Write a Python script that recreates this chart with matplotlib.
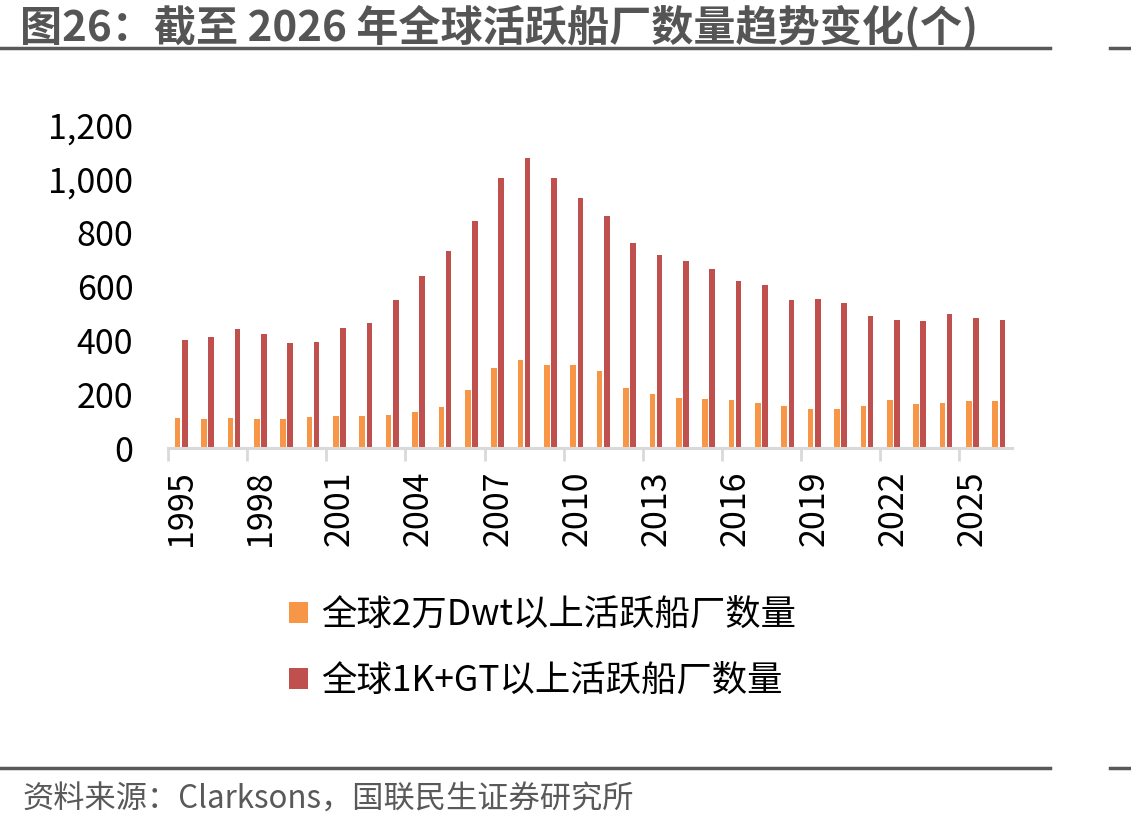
import matplotlib
matplotlib.use("Agg")
import matplotlib.pyplot as plt
import numpy as np
from matplotlib.lines import Line2D

plt.rcParams['font.family'] = ['Noto Sans CJK SC', 'DejaVu Sans']

years = list(range(1995, 2027))
dwt20k = [111, 108, 110, 108, 106, 114, 119, 118, 123, 133, 151, 214, 296, 327, 307, 308,
          286, 223, 199, 185, 181, 177, 167, 155, 145, 145, 156, 178, 162, 167, 175, 173]
gt1k = [401, 412, 441, 422, 389, 393, 445, 463, 549, 638, 732, 843, 1004, 1076, 1002, 929,
        861, 762, 717, 695, 664, 619, 606, 549, 554, 537, 490, 476, 472, 497, 482, 474]
series_names = ['全球2万Dwt以上活跃船厂数量', '全球1K+GT以上活跃船厂数量']
colors = ['#F79646', '#C0504D']
yticks = [0, 200, 400, 600, 800, 1000, 1200]

W, H = 1131, 830
fig = plt.figure(figsize=(W / 100, H / 100), dpi=100)
ax = fig.add_axes([168 / W, 1 - 448 / H, (1012 - 168) / W, (448 - 125) / H])

x = np.arange(len(years))
bw = 0.215
off = 0.135
b1 = ax.bar(x - off, dwt20k, width=bw, color=colors[0], label=series_names[0])
b2 = ax.bar(x + off, gt1k, width=bw, color=colors[1], label=series_names[1])

ax.set_xlim(-0.5, len(years) - 0.5)
ax.set_ylim(0, 1200)
ax.set_yticks(yticks)
ax.set_yticklabels([f'{v:,}' for v in yticks])
ax.tick_params(axis='y', length=0, pad=25, labelsize=24.5)

lab_idx = list(range(0, len(years), 3))
ax.set_xticks(lab_idx)
ax.set_xticklabels([str(years[i]) for i in lab_idx], rotation=90)
ax.tick_params(axis='x', which='major', length=0, pad=16, labelsize=24.5)
ax.set_xticks([i - 0.5 for i in lab_idx], minor=True)
ax.tick_params(axis='x', which='minor', length=9, width=2, color='#D9D9D9')

for s in ['top', 'right', 'left']:
    ax.spines[s].set_visible(False)
ax.spines['bottom'].set_color('#D9D9D9')
ax.spines['bottom'].set_linewidth(2.2)

leg = fig.legend(handles=[b1, b2], labels=series_names, loc='upper left',
                 bbox_to_anchor=(257 / W, 1 - 565 / H), frameon=False,
                 fontsize=25.5, handlelength=0.55, handleheight=0.55,
                 handletextpad=0.35, labelspacing=0.85)

# Title
fig.text(20 / W, 1 - 27 / H, '图26：截至 2026 年全球活跃船厂数量趋势变化(个)',
         fontsize=30.3, fontweight='bold', color='#555555', va='center', ha='left')

# Rules
for yy in [48, 768]:
    fig.add_artist(Line2D([0, 1050 / W], [1 - yy / H] * 2, color='#595959', lw=2.5))
    fig.add_artist(Line2D([1110 / W, 1], [1 - yy / H] * 2, color='#595959', lw=2.5))

fig.text(22 / W, 1 - 800 / H, '资料来源：Clarksons，国联民生证券研究所',
         fontsize=22.5, color='#595959', va='center', ha='left')

fig.savefig('out.png', dpi=100)
